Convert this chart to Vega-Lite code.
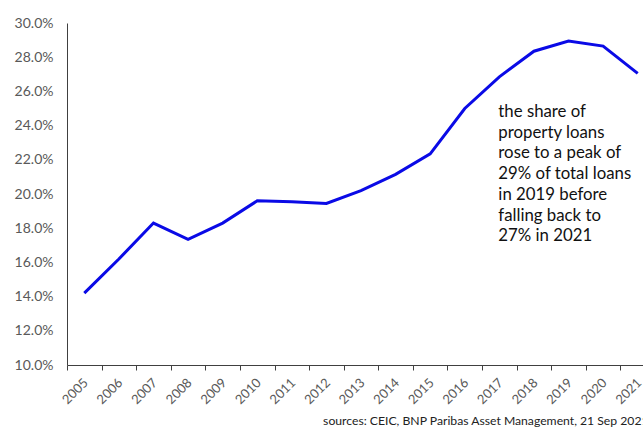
{
  "$schema": "https://vega.github.io/schema/vega-lite/v6.json",
  "width": 588,
  "height": 342,
  "autosize": {"type": "none"},
  "padding": {"left": 67, "top": 23, "right": 0, "bottom": 62},
  "background": "white",
  "config": {"view": {"stroke": null}},
  "title": {
    "text": "sources: CEIC, BNP Paribas Asset Management, 21 Sep 2021",
    "orient": "bottom",
    "anchor": "start",
    "dx": 309,
    "offset": 8,
    "font": "Lato",
    "fontSize": 12.2,
    "fontWeight": "normal",
    "color": "#222222"
  },
  "datasets": {
    "series": [
      {"year": "2005", "share": 14.2},
      {"year": "2006", "share": 16.2},
      {"year": "2007", "share": 18.3},
      {"year": "2008", "share": 17.35},
      {"year": "2009", "share": 18.3},
      {"year": "2010", "share": 19.6},
      {"year": "2011", "share": 19.55},
      {"year": "2012", "share": 19.45},
      {"year": "2013", "share": 20.2},
      {"year": "2014", "share": 21.15},
      {"year": "2015", "share": 22.35},
      {"year": "2016", "share": 25.0},
      {"year": "2017", "share": 26.85},
      {"year": "2018", "share": 28.35},
      {"year": "2019", "share": 28.95},
      {"year": "2020", "share": 28.65},
      {"year": "2021", "share": 27.05}
    ],
    "note": [
      {"year": "2017", "share": 24.5, "label": ["the share of", "property loans", "rose to a peak of", "29% of total loans", "in 2019 before", "falling back to", "27% in 2021"]}
    ]
  },
  "encoding": {
    "x": {
      "field": "year",
      "type": "ordinal",
      "bandPosition": 0.5,
      "scale": {"type": "band", "paddingInner": 0, "paddingOuter": 0},
      "axis": {
        "title": null,
        "tickBand": "extent",
        "labelAngle": -45,
        "labelPadding": 6,
        "labelOffset": -3,
        "labelFont": "Lato",
        "labelFontSize": 13,
        "labelColor": "#595959",
        "labelOverlap": false,
        "labelBound": false,
        "domainColor": "#404040",
        "tickColor": "#404040",
        "tickSize": 5,
        "grid": false
      }
    },
    "y": {
      "field": "share",
      "type": "quantitative",
      "scale": {"domain": [10, 30], "nice": false, "zero": false},
      "axis": {
        "title": null,
        "values": [10, 12, 14, 16, 18, 20, 22, 24, 26, 28, 30],
        "labelExpr": "format(datum.value, '.1f') + '%'",
        "labelOverlap": false,
        "labelBound": false,
        "ticks": false,
        "grid": false,
        "labelPadding": 14,
        "labelFont": "Lato",
        "labelFontSize": 14,
        "labelColor": "#595959",
        "domainColor": "#404040"
      }
    }
  },
  "layer": [
    {
      "data": {"name": "series"},
      "mark": {"type": "line", "color": "#0a0ae6", "strokeWidth": 3, "strokeJoin": "miter"}
    },
    {
      "data": {"name": "note"},
      "mark": {"type": "text", "align": "left", "baseline": "alphabetic", "dx": -1, "font": "Lato", "fontSize": 16.8, "lineHeight": 20.7, "color": "#111111"},
      "encoding": {
        "text": {"field": "label"}
      }
    }
  ]
}
